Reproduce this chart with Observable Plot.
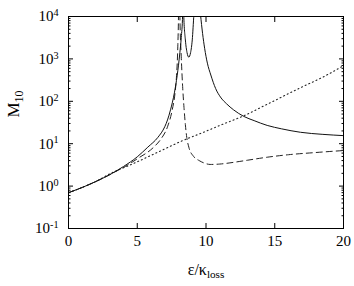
<!DOCTYPE html>
<html><head><meta charset="utf-8">
<script src="https://cdn.jsdelivr.net/npm/d3@7"></script>
<script src="https://cdn.jsdelivr.net/npm/@observablehq/plot@0.6"></script>
<style>body{margin:0;background:#fff}</style>
</head><body><div id="chart"></div>
<script>
const xTicks = [0, 5, 10, 15, 20];
const yTicks = [0.1, 1, 10, 100, 1000, 10000];
const yMinor = [0.2,0.3,0.4,0.5,0.6,0.7,0.8,0.9, 2,3,4,5,6,7,8,9, 20,30,40,50,60,70,80,90,
                200,300,400,500,600,700,800,900, 2000,3000,4000,5000,6000,7000,8000,9000];

// solid curve
const solidX = [0,1,2,3,4,5,5.77,6.5,7.0,7.2,7.42,7.7,7.9,8.1,8.2,8.3,8.33,8.38,8.5,8.62,8.75,8.88,9.0,9.12,9.35,
                9.6,9.75,9.9,10.1,10.35,10.7,11.05,11.5,12.0,12.75,13.5,14.45,15.5,16.87,18.5,20];
const solidY = [0.70,0.93,1.29,1.86,2.9,4.9,8.3,14.1,25.1,36.3,63,158,398,1410,3160,11200,100000,11200,2800,1410,1100,1410,2800,11200,100000,
                11200,4000,1780,794,417,200,126,87,63,44,35,27,22.4,18.6,16.6,15.5];

// dashed curve
const dashedX = [0,1,2,3,3.35,4,5,6.2,6.7,7.2,7.54,7.75,7.85,7.95,8.0,8.05,8.1,8.2,8.3,8.4,8.5,8.6,8.75,
                 9.1,9.5,9.9,10.3,11,12,13,14.45,16,18,20];
const dashedY = [0.70,0.93,1.29,1.86,2.14,2.75,4.4,8.3,12.6,25,62,160,370,2000,11200,1000000,11200,1120,224,71,28,14.1,8.3,
                 5.0,4.0,3.47,3.24,3.31,3.63,4.07,4.8,5.5,6.2,6.9];

// dotted curve
const dottedX = [0,1,2,3,4.5,6.7,8.5,9.6,11,12.75,14.45,16.87,18.5,20];
const dottedY = [0.70,0.93,1.29,1.95,3.16,6.76,12.6,17.4,26.9,45.7,85,209,372,692];

const toRows = (xs, ys) => xs.map((x, i) => ({x, y: ys[i]}));

const chart = Plot.plot({
  width: 354, height: 286,
  marginLeft: 68, marginRight: 11, marginTop: 16, marginBottom: 58,
  style: {fontFamily: "'Liberation Serif', 'Times New Roman', serif", fontSize: "15px", background: "#fff", color: "#000"},
  x: {domain: [0, 20]},
  y: {type: "log", domain: [0.1, 10000]},
  marks: [
    Plot.axisX({anchor: "bottom", ticks: xTicks, tickSize: -5, tickFormat: () => "", label: null}),
    Plot.axisX({anchor: "top", ticks: xTicks, tickSize: -5, tickFormat: () => "", label: null}),
    Plot.axisX({anchor: "bottom", ticks: xTicks, tickSize: 0, tickPadding: 7, label: null, tickFormat: d => String(d)}),
    Plot.axisY({anchor: "left", ticks: yTicks, tickSize: -5, tickFormat: () => "", label: null}),
    Plot.axisY({anchor: "right", ticks: yTicks, tickSize: -5, tickFormat: () => "", label: null}),
    Plot.axisY({anchor: "left", ticks: yMinor, tickSize: -2.5, tickFormat: () => "", label: null}),
    Plot.axisY({anchor: "right", ticks: yMinor, tickSize: -2.5, tickFormat: () => "", label: null}),
    Plot.axisY({anchor: "left", ticks: yTicks, tickSize: 0, tickPadding: 10, label: null,
                tickFormat: d => "10^" + Math.round(Math.log10(d))}),
    Plot.line(toRows(dottedX, dottedY), {x: "x", y: "y", curve: "monotone-x", stroke: "#222", strokeWidth: 1.1, strokeDasharray: "1,3", clip: true}),
    Plot.line(toRows(dashedX, dashedY), {x: "x", y: "y", curve: "monotone-x", stroke: "#222", strokeWidth: 1, strokeDasharray: "6,4", clip: true}),
    Plot.line(toRows(solidX, solidY), {x: "x", y: "y", curve: "monotone-x", stroke: "#111", strokeWidth: 1, clip: true}),
    Plot.frame({stroke: "#000"}),
    Plot.text(["M_10"], {text: d => d, frameAnchor: "left", dx: -55, dy: -5, rotate: -90, fontSize: 17}),
    Plot.text(["ε/κ_loss"], {text: d => d, frameAnchor: "bottom", dy: 46, fontSize: 16})
  ]
});

const ns = "http://www.w3.org/2000/svg";
chart.querySelectorAll("text").forEach(t => {
  if (t.querySelector("tspan")) return;
  const s = t.textContent;
  let m = s.match(/^10\^(-?\d+)$/);
  if (m) {
    t.textContent = "10";
    const ts = document.createElementNS(ns, "tspan");
    ts.setAttribute("dy", "-0.5em");
    ts.setAttribute("font-size", "0.68em");
    ts.textContent = m[1];
    t.appendChild(ts);
    return;
  }
  m = s.match(/^(.+)_(.+)$/);
  if (m) {
    t.textContent = m[1];
    const ts = document.createElementNS(ns, "tspan");
    ts.setAttribute("dy", "0.35em");
    ts.setAttribute("font-size", "0.7em");
    ts.textContent = m[2];
    t.appendChild(ts);
  }
});
document.getElementById("chart").appendChild(chart);
</script>
</body></html>
